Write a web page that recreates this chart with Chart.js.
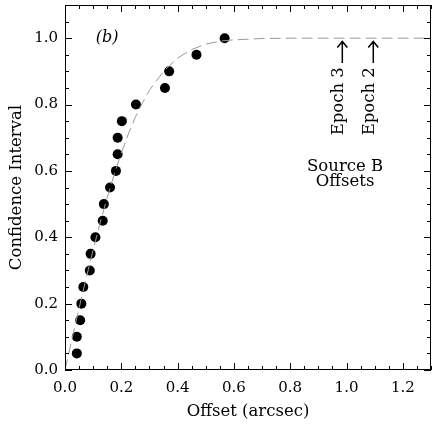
<!DOCTYPE html>
<html>
<head>
<meta charset="utf-8">
<script src="https://cdn.jsdelivr.net/npm/chart.js@4.4.0/dist/chart.umd.min.js"></script>
<style>
  html, body { margin: 0; padding: 0; background: #fff; }
  #wrap { width: 436px; height: 436px; }
</style>
</head>
<body>
<div id="wrap"><canvas id="cdf"></canvas></div>
<script>
// measured offsets and their confidence level
var offsetX = [0.042, 0.042, 0.054, 0.058, 0.065, 0.088, 0.091, 0.108, 0.134, 0.138,
               0.160, 0.181, 0.187, 0.187, 0.202, 0.252, 0.355, 0.370, 0.467, 0.567];
var confY   = [0.05, 0.10, 0.15, 0.20, 0.25, 0.30, 0.35, 0.40, 0.45, 0.50,
               0.55, 0.60, 0.65, 0.70, 0.75, 0.80, 0.85, 0.90, 0.95, 1.00];

// dashed model curve
var curveX = [0, 0.025, 0.05, 0.075, 0.1, 0.125, 0.15, 0.175, 0.2, 0.225, 0.25, 0.275,
              0.3, 0.35, 0.4, 0.45, 0.5, 0.55, 0.6, 0.7, 0.8, 1.3];
var curveY = [0, 0.094, 0.186, 0.276, 0.362, 0.444, 0.52, 0.59, 0.654, 0.711, 0.762, 0.805,
              0.843, 0.90, 0.94, 0.966, 0.982, 0.991, 0.995, 0.999, 1.0, 1.0];

var xTickLabels = [0.0, 0.2, 0.4, 0.6, 0.8, 1.0, 1.2];
var yTickLabels = [0.0, 0.2, 0.4, 0.6, 0.8, 1.0];

var epochX = [0.985, 1.095];
var epochNames = ["Epoch 3", "Epoch 2"];

var FONT = "'DejaVu Serif', 'Liberation Serif', serif";

var points = offsetX.map(function(x, i) { return { x: x, y: confY[i] }; });
var curve = curveX.map(function(x, i) { return { x: x, y: curveY[i] }; });

var frameAndNotes = {
    id: 'frameAndNotes',
    afterDraw: function(chart) {
        var ctx = chart.ctx;
        var a = chart.chartArea;
        var xs = chart.scales.x, ys = chart.scales.y;
        ctx.save();
        ctx.strokeStyle = '#000';
        ctx.lineWidth = 1;
        ctx.strokeRect(a.left + 0.5, a.top + 0.5, a.right - a.left - 1, a.bottom - a.top - 1);

        // inward ticks on all four sides
        ctx.beginPath();
        for (var k = 0; k <= 26; k++) {
            var v = k * 0.05;
            var px = Math.round(xs.getPixelForValue(v)) + 0.5;
            var len = (k % 4 === 0) ? 7 : 4;
            ctx.moveTo(px, a.bottom); ctx.lineTo(px, a.bottom - len);
            ctx.moveTo(px, a.top); ctx.lineTo(px, a.top + len);
        }
        for (var j = 0; j <= 22; j++) {
            var w = j * 0.05;
            var py = Math.round(ys.getPixelForValue(w)) + 0.5;
            var l2 = (j % 4 === 0) ? 7 : 4;
            ctx.moveTo(a.left, py); ctx.lineTo(a.left + l2, py);
            ctx.moveTo(a.right, py); ctx.lineTo(a.right - l2, py);
        }
        ctx.stroke();

        ctx.fillStyle = '#000';
        ctx.textAlign = 'center';
        ctx.textBaseline = 'middle';

        ctx.font = 'italic 16px ' + FONT;
        ctx.fillText('(b)', xs.getPixelForValue(0.15), ys.getPixelForValue(1.0));

        ctx.font = '16.5px ' + FONT;
        ctx.fillText('Source B', xs.getPixelForValue(0.995), ys.getPixelForValue(0.614));
        ctx.fillText('Offsets', xs.getPixelForValue(0.995), ys.getPixelForValue(0.566));

        // epoch arrows
        ctx.font = '16.5px ' + FONT;
        ctx.lineWidth = 1.5;
        for (var e = 0; e < epochX.length; e++) {
            var ax = xs.getPixelForValue(epochX[e]);
            var top = ys.getPixelForValue(0.99);
            var bot = ys.getPixelForValue(0.925);
            ctx.beginPath();
            ctx.moveTo(ax, bot); ctx.lineTo(ax, top);
            ctx.moveTo(ax - 5, top + 6); ctx.lineTo(ax, top); ctx.lineTo(ax + 5, top + 6);
            ctx.stroke();

            ctx.save();
            ctx.translate(ax - 4, ys.getPixelForValue(0.81));
            ctx.rotate(-Math.PI / 2);
            ctx.fillText(epochNames[e], 0, 0);
            ctx.restore();
        }
        ctx.restore();
    }
};

new Chart(document.getElementById('cdf'), {
    type: 'scatter',
    plugins: [frameAndNotes],
    data: {
        datasets: [
            {
                type: 'line',
                data: curve,
                borderColor: '#999999',
                borderWidth: 1,
                borderDash: [11, 5],
                pointRadius: 0,
                fill: false,
                tension: 0
            },
            {
                data: points,
                pointRadius: 5,
                pointBackgroundColor: '#000',
                pointBorderWidth: 0,
                backgroundColor: '#000'
            }
        ]
    },
    options: {
        responsive: true,
        maintainAspectRatio: false,
        animation: false,
        layout: { padding: { top: 2, right: 2, left: 0, bottom: 0 } },
        plugins: { legend: { display: false }, tooltip: { enabled: false } },
        scales: {
            x: {
                type: 'linear',
                min: 0,
                max: 1.3,
                grid: { display: false, drawTicks: false },
                border: { display: false },
                afterBuildTicks: function(s) { s.ticks = xTickLabels.map(function(v) { return { value: v }; }); },
                afterFit: function(s) {
                    s.height = 66;
                    s.paddingLeft = 0; s.paddingRight = 0;
                },
                ticks: {
                    padding: 9,
                    color: '#000',
                    font: { family: FONT, size: 15 },
                    callback: function(v) { return Number(v).toFixed(1); }
                },
                title: {
                    display: true,
                    text: 'Offset (arcsec)',
                    color: '#000',
                    font: { family: FONT, size: 16.5 },
                    padding: { top: 0, bottom: 14 }
                }
            },
            y: {
                type: 'linear',
                min: 0,
                max: 1.1,
                grid: { display: false, drawTicks: false },
                border: { display: false },
                afterBuildTicks: function(s) { s.ticks = yTickLabels.map(function(v) { return { value: v }; }); },
                afterFit: function(s) {
                    s.width = 65;
                    s.paddingTop = 0; s.paddingBottom = 0;
                },
                ticks: {
                    padding: 7,
                    color: '#000',
                    font: { family: FONT, size: 15 },
                    callback: function(v) { return Number(v).toFixed(1); }
                },
                title: {
                    display: true,
                    text: 'Confidence Interval',
                    color: '#000',
                    font: { family: FONT, size: 16.5 },
                    padding: { top: 7, bottom: 0 }
                }
            }
        }
    }
});
</script>
</body>
</html>
